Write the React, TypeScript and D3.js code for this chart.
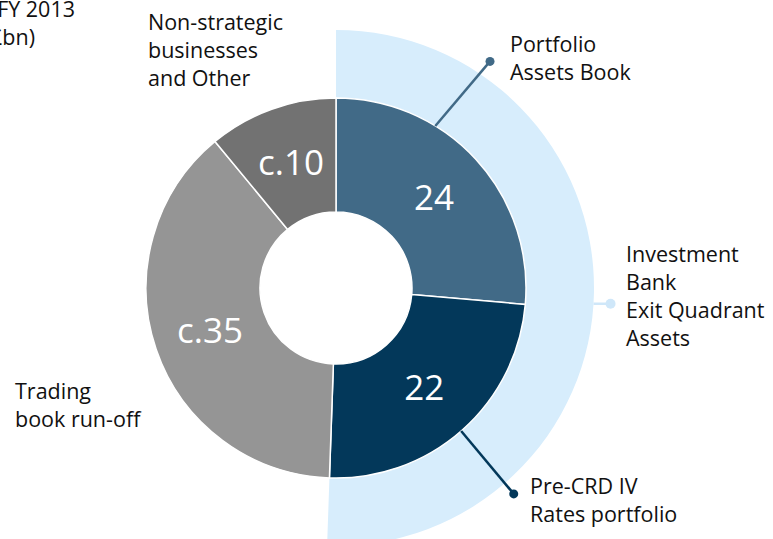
import React from "react";
import * as d3 from "d3";

const W = 773;
const H = 539;

const categories = ["Portfolio Assets Book", "Pre-CRD IV Rates portfolio", "Trading book run-off", "Non-strategic businesses and Other"];
const values = [24, 22, 35, 10];
const valueLabels = ["24", "22", "c.35", "c.10"];
const colors = ["#416a87", "#03385a", "#959595", "#727272"];

const titleLine1 = "RWAs FY 2013";
const titleLine2 = "Non-Core (£bn)";
const portfolioLines = ["Portfolio", "Assets Book"];
const preCrdLines = ["Pre-CRD IV", "Rates portfolio"];
const ibLines = ["Investment", "Bank", "Exit Quadrant", "Assets"];
const nonStratLines = ["Non-strategic", "businesses", "and Other"];
const tradingLines = ["Trading", "book run-off"];

const FONT = "'Open Sans', 'Noto Sans', sans-serif";
const FS = 21.5;

export default function App() {
  const cx = 336;
  const cy = 288;
  const rIn = 76;
  const rOut = 190;
  const rRing = 258;

  const pie = d3.pie<number>().sort(null).value((d) => d);
  const arcs = pie(values);
  const arcGen = d3.arc<d3.PieArcDatum<number>>().innerRadius(rIn).outerRadius(rOut);
  const ibArc = d3.arc()({
    innerRadius: rIn + 2,
    outerRadius: rRing,
    startAngle: arcs[0].startAngle,
    endAngle: arcs[1].endAngle,
  } as any) as string;

  const polar = (r: number, deg: number): [number, number] => {
    const a = (deg * Math.PI) / 180;
    return [cx + r * Math.sin(a), cy - r * Math.cos(a)];
  };

  const leaders = [
    { a0: 31.5, r0: rOut, a1: 34.2, r1: 274, color: colors[0], dot: 4.5 },
    { a0: 138.8, r0: rOut, a1: 139.2, r1: 272, color: colors[1], dot: 4.5 },
    { a0: 93.5, r0: rRing, a1: 93.3, r1: 275, color: "#cfe7f9", dot: 5 },
  ];

  const lineH = 28;
  const textBlock = (lines: string[], x: number, y: number, anchor = "start") => (
    <text x={x} y={y} fontSize={FS} fontFamily={FONT} fill="#111" textAnchor={anchor}>
      {lines.map((l, i) => (
        <tspan key={i} x={x} dy={i === 0 ? 0 : lineH}>
          {l}
        </tspan>
      ))}
    </text>
  );

  return (
    <svg width={W} height={H} style={{ position: "fixed", left: 0, top: 0, background: "#fff" }}>
      <path d={ibArc} transform={`translate(${cx},${cy})`} fill="#d7edfc" />
      <g transform={`translate(${cx},${cy})`}>
        {arcs.map((a, i) => (
          <path key={i} d={arcGen(a) as string} fill={colors[i]} stroke="#fff" strokeWidth={1.5} />
        ))}
        {arcs.map((a, i) => {
          const [x, y] = arcGen.centroid(a);
          return (
            <text key={i} x={x} y={y} dy="0.35em" textAnchor="middle" fontSize={35} fontFamily={FONT} fill="#fff">
              {valueLabels[i]}
            </text>
          );
        })}
      </g>
      {leaders.map((l, i) => {
        const [x0, y0] = polar(l.r0, l.a0);
        const [x1, y1] = polar(l.r1, l.a1);
        return (
          <g key={i}>
            <line x1={x0} y1={y0} x2={x1} y2={y1} stroke={l.color} strokeWidth={2.5} />
            <circle cx={x1} cy={y1} r={l.dot} fill={l.color} />
          </g>
        );
      })}
      <text x={75} y={17} fontSize={FS} fontFamily={FONT} fill="#111" textAnchor="end">{titleLine1}</text>
      <text x={35} y={45} fontSize={FS} fontFamily={FONT} fill="#111" textAnchor="end">{titleLine2}</text>
      {textBlock(portfolioLines, 510, 52)}
      {textBlock(preCrdLines, 530, 494)}
      {textBlock(ibLines, 626, 262)}
      {textBlock(nonStratLines, 148, 30)}
      {textBlock(tradingLines, 15, 399)}
    </svg>
  );
}
